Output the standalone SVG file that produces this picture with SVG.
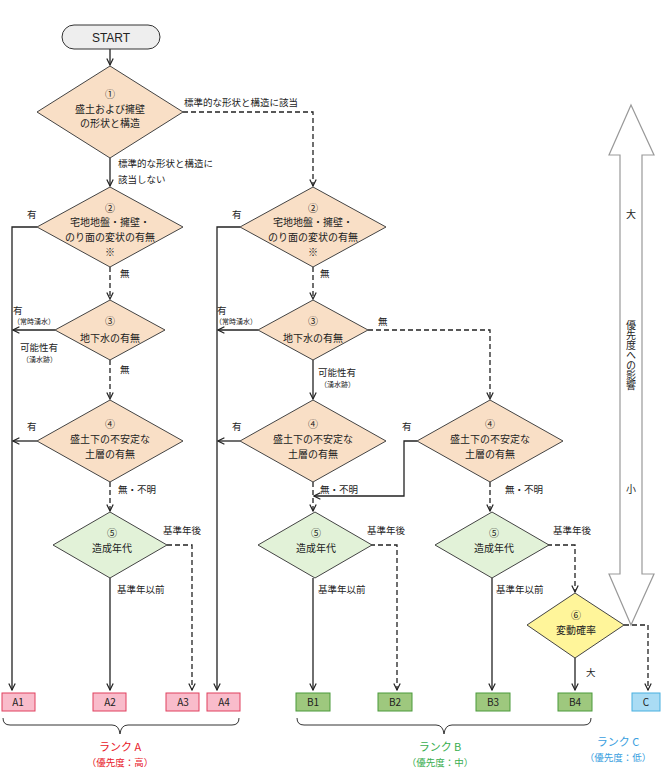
<svg xmlns="http://www.w3.org/2000/svg" width="670" height="780" viewBox="0 0 670 780">
<defs>
<marker id="ar" viewBox="0 0 10 10" refX="9" refY="5" markerWidth="8" markerHeight="8" orient="auto" markerUnits="userSpaceOnUse"><path d="M1,1 L9,5 L1,9" fill="none" stroke="#222" stroke-width="1.5"/></marker>
</defs>
<style>
text{font-family:"Noto Sans CJK JP","Liberation Sans",sans-serif;fill:#222}
.t{font-size:10px;text-anchor:middle}
.l{font-size:9.5px}
.s{font-size:7px}
.p{fill:#f9dfc6;stroke:#444;stroke-width:1}
.g{fill:#e2f2d8;stroke:#444;stroke-width:1}
.y{fill:#fff59a;stroke:#444;stroke-width:1}
.c{fill:none;stroke:#222;stroke-width:1.3}
.d{fill:none;stroke:#222;stroke-width:1.3;stroke-dasharray:5,3}
.ba{fill:#f9bccb;stroke:#e0405e}
.bb{fill:#9ec87e;stroke:#4a9a3a}
.bc{fill:#aadcf4;stroke:#48b0e0}
.br{fill:none;stroke:#333;stroke-width:1}
</style>
<g id="connectors">
<path class="c" d="M110,49 V65" marker-end="url(#ar)"/>
<path class="d" d="M183,112 H313 V186" marker-end="url(#ar)"/>
<path class="c" d="M110,158 V186" marker-end="url(#ar)"/>
<path class="c" d="M37,227 H12 V690" marker-end="url(#ar)"/>
<path class="d" d="M110,267 V299" marker-end="url(#ar)"/>
<path class="c" d="M55,330 H13" marker-end="url(#ar)"/>
<path class="d" d="M110,360 V399" marker-end="url(#ar)"/>
<path class="c" d="M37,441 H13" marker-end="url(#ar)"/>
<path class="d" d="M110,482 V511" marker-end="url(#ar)"/>
<path class="c" d="M110,578 V690" marker-end="url(#ar)"/>
<path class="d" d="M167,545 H192 V690" marker-end="url(#ar)"/>
<path class="c" d="M240,227 H217 V690" marker-end="url(#ar)"/>
<path class="d" d="M313,267 V299" marker-end="url(#ar)"/>
<path class="c" d="M258,330 H218" marker-end="url(#ar)"/>
<path class="d" d="M368,330 H490 V399" marker-end="url(#ar)"/>
<path class="c" d="M313,360 V399" marker-end="url(#ar)"/>
<path class="c" d="M240,441 H218" marker-end="url(#ar)"/>
<path class="d" d="M313,482 V511" marker-end="url(#ar)"/>
<path class="c" d="M417,441 H404 V496 H314" marker-end="url(#ar)"/>
<path class="d" d="M490,482 V511" marker-end="url(#ar)"/>
<path class="c" d="M313,578 V690" marker-end="url(#ar)"/>
<path class="d" d="M370,545 H397 V690" marker-end="url(#ar)"/>
<path class="c" d="M492,578 V690" marker-end="url(#ar)"/>
<path class="d" d="M547,545 H575 V592" marker-end="url(#ar)"/>
<path class="c" d="M575,658 V690" marker-end="url(#ar)"/>
<path class="d" d="M624,625 H648 V690" marker-end="url(#ar)"/>
</g>
<g id="labels">
<text class="l" x="184" y="106">標準的な形状と構造に該当</text>
<text class="l" x="118" y="167">標準的な形状と構造に</text>
<text class="l" x="118" y="183">該当しない</text>
<text class="l" x="27" y="218">有</text>
<text class="l" x="120" y="277">無</text>
<text class="l" x="13" y="314">有</text>
<text class="s" x="13" y="324">（常時湧水）</text>
<text class="l" x="20" y="351">可能性有</text>
<text class="s" x="22" y="362">（湧水跡）</text>
<text class="l" x="120" y="373">無</text>
<text class="l" x="27" y="430">有</text>
<text class="l" x="118" y="493">無・不明</text>
<text class="l" x="163" y="534">基準年後</text>
<text class="l" x="117" y="593">基準年以前</text>
<text class="l" x="232" y="218">有</text>
<text class="l" x="320" y="277">無</text>
<text class="l" x="217" y="314">有</text>
<text class="s" x="215" y="324">（常時湧水）</text>
<text class="l" x="378" y="325">無</text>
<text class="l" x="318" y="376">可能性有</text>
<text class="s" x="320" y="387">（湧水跡）</text>
<text class="l" x="232" y="430">有</text>
<text class="l" x="402" y="430">有</text>
<text class="l" x="320" y="493">無・不明</text>
<text class="l" x="505" y="493">無・不明</text>
<text class="l" x="367" y="534">基準年後</text>
<text class="l" x="318" y="593">基準年以前</text>
<text class="l" x="553" y="534">基準年後</text>
<text class="l" x="496" y="593">基準年以前</text>
<text class="l" x="627" y="614">小</text>
<text class="l" x="586" y="716" dy="-40">大</text>
</g>
<g id="start"><rect x="62" y="25" width="98" height="24" rx="12" fill="#eee" stroke="#333"/><text class="t" x="111" y="42" style="font-size:12px;font-family:'Liberation Sans',sans-serif">START</text></g>
<g id="d1"><path class="p" d="M110,66 L183,112 L110,158 L37,112Z"/><text class="t" x="110" y="98">①</text><text class="t" x="110" y="113">盛土および擁壁</text><text class="t" x="110" y="127">の形状と構造</text></g>
<g id="d2a"><path class="p" d="M110,187 L183,227 L110,267 L37,227Z"/><text class="t" x="110" y="212">②</text><text class="t" x="110" y="226">宅地地盤・擁壁・</text><text class="t" x="110" y="241">のり面の変状の有無</text><text class="t" x="110" y="256">※</text></g>
<g id="d3a"><path class="p" d="M110,300 L165,330 L110,360 L55,330Z"/><text class="t" x="110" y="325">③</text><text class="t" x="110" y="342">地下水の有無</text></g>
<g id="d4a"><path class="p" d="M110,400 L183,441 L110,482 L37,441Z"/><text class="t" x="110" y="428">④</text><text class="t" x="110" y="443">盛土下の不安定な</text><text class="t" x="110" y="458">土層の有無</text></g>
<g id="d5a"><path class="g" d="M110,512 L167,545 L110,578 L53,545Z"/><text class="t" x="112" y="537">⑤</text><text class="t" x="112" y="552">造成年代</text></g>
<g id="d2b"><path class="p" d="M313,187 L386,227 L313,267 L240,227Z"/><text class="t" x="313" y="212">②</text><text class="t" x="313" y="226">宅地地盤・擁壁・</text><text class="t" x="313" y="241">のり面の変状の有無</text><text class="t" x="313" y="256">※</text></g>
<g id="d3b"><path class="p" d="M313,300 L368,330 L313,360 L258,330Z"/><text class="t" x="313" y="325">③</text><text class="t" x="313" y="342">地下水の有無</text></g>
<g id="d4b"><path class="p" d="M313,400 L386,441 L313,482 L240,441Z"/><text class="t" x="313" y="428">④</text><text class="t" x="313" y="443">盛土下の不安定な</text><text class="t" x="313" y="458">土層の有無</text></g>
<g id="d4c"><path class="p" d="M490,400 L563,441 L490,482 L417,441Z"/><text class="t" x="490" y="428">④</text><text class="t" x="490" y="443">盛土下の不安定な</text><text class="t" x="490" y="458">土層の有無</text></g>
<g id="d5b"><path class="g" d="M315,512 L372,545 L315,578 L258,545Z"/><text class="t" x="316" y="537">⑤</text><text class="t" x="316" y="552">造成年代</text></g>
<g id="d5c"><path class="g" d="M492,512 L549,545 L492,578 L435,545Z"/><text class="t" x="494" y="537">⑤</text><text class="t" x="494" y="552">造成年代</text></g>
<g id="d6"><path class="y" d="M575,593 L624,625 L575,658 L527,625Z"/><text class="t" x="576" y="619">⑥</text><text class="t" x="576" y="634">変動確率</text></g>
<g id="results" style="font-size:11px">
<g id="A1"><rect class="ba" x="2" y="693" width="33" height="18"/><text class="t" x="18" y="706">A1</text></g>
<g id="A2"><rect class="ba" x="93" y="693" width="33" height="18"/><text class="t" x="110" y="706">A2</text></g>
<g id="A3"><rect class="ba" x="166" y="693" width="33" height="18"/><text class="t" x="183" y="706">A3</text></g>
<g id="A4"><rect class="ba" x="207" y="693" width="33" height="18"/><text class="t" x="224" y="706">A4</text></g>
<g id="B1"><rect class="bb" x="296" y="693" width="34" height="18"/><text class="t" x="313" y="706">B1</text></g>
<g id="B2"><rect class="bb" x="378" y="693" width="34" height="18"/><text class="t" x="395" y="706">B2</text></g>
<g id="B3"><rect class="bb" x="476" y="693" width="34" height="18"/><text class="t" x="493" y="706">B3</text></g>
<g id="B4"><rect class="bb" x="558" y="693" width="34" height="18"/><text class="t" x="575" y="706">B4</text></g>
<g id="C"><rect class="bc" x="632" y="693" width="28" height="18"/><text class="t" x="646" y="706">C</text></g>
</g>
<g id="braces">
<path class="br" d="M3,718 Q3,725 10,725 H112 Q119,725 120,734 Q121,725 128,725 H232 Q239,725 239,718"/>
<path class="br" d="M297,718 Q297,725 304,725 H436 Q443,725 444,734 Q445,725 452,725 H584 Q591,725 591,718"/>
<text class="t" x="120" y="751" style="fill:#e8202a;font-size:11px">ランク A</text>
<text class="t" x="120" y="766" style="fill:#e8202a;font-size:9.5px">（優先度：高）</text>
<text class="t" x="440" y="751" style="fill:#3aae50;font-size:11px">ランク B</text>
<text class="t" x="440" y="766" style="fill:#3aae50;font-size:9.5px">（優先度：中）</text>
<text class="t" x="618" y="746" style="fill:#3aa0e0;font-size:11px">ランク C</text>
<text class="t" x="618" y="761" style="fill:#3aa0e0;font-size:9.5px">（優先度：低）</text>
</g>
<g id="priority">
<path d="M631,105 L654,155 L642,155 L642,574 L654,574 L631,625 L609,574 L620,574 L620,155 L609,155Z" fill="#fff" stroke="#999" stroke-width="1.2"/>
<text class="t" x="631" y="218">大</text>
<text class="t" x="631" y="493">小</text>
<text class="t" x="631" y="320" style="writing-mode:vertical-rl;text-anchor:start">優先度への影響</text>
</g>
</svg>
